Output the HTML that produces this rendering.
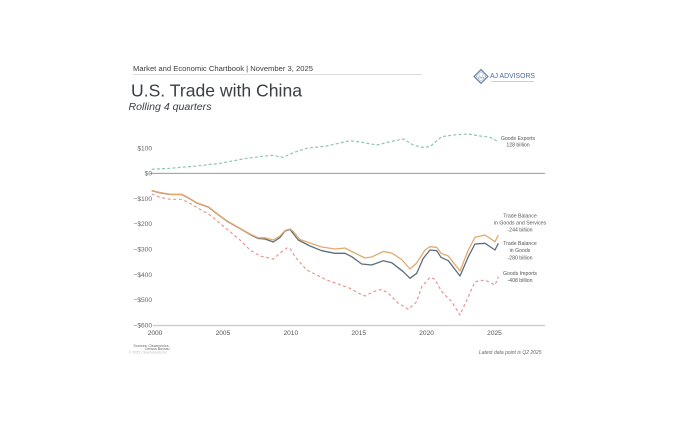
<!DOCTYPE html>
<html><head><meta charset="utf-8"><style>
html,body{margin:0;padding:0;background:#fff;}
svg{display:block;}
text{font-family:"Liberation Sans",sans-serif;}
</style></head><body>
<svg width="700" height="441" viewBox="0 0 700 441" xmlns="http://www.w3.org/2000/svg">
<rect width="700" height="441" fill="#fff"/>
<!-- header -->
<text x="133" y="71" font-size="7.6" fill="#3d3d3d" textLength="180" lengthAdjust="spacingAndGlyphs">Market and Economic Chartbook | November 3, 2025</text>
<line x1="133" y1="74.5" x2="422" y2="74.5" stroke="#d0d0d0" stroke-width="0.8"/>
<text x="131" y="96.5" font-size="17.5" fill="#3a3f45" textLength="171" lengthAdjust="spacingAndGlyphs">U.S. Trade with China</text>
<text x="128.5" y="110" font-size="10" font-style="italic" fill="#3a3f45" textLength="83" lengthAdjust="spacingAndGlyphs">Rolling 4 quarters</text>
<!-- logo -->
<g>
<polygon points="481,69.5 488,76.5 481,83.5 474,76.5" fill="none" stroke="#4a6a9a" stroke-width="0.9"/>
<polygon points="481,71.5 486,76.5 481,81.5 476,76.5" fill="none" stroke="#4a6a9a" stroke-width="0.5"/>
<text x="481" y="78.3" font-size="4.5" fill="#4a6a9a" text-anchor="middle" font-family="Liberation Serif,serif">AA</text>
<text x="490" y="78" font-size="7.5" fill="#4a6a9a" font-family="Liberation Serif,serif" textLength="45" lengthAdjust="spacingAndGlyphs">AJ ADVISORS</text>
<line x1="491" y1="81.5" x2="534" y2="81.5" stroke="#8aa0c0" stroke-width="0.6"/>
</g>
<!-- axes -->
<line x1="150" y1="173.3" x2="545" y2="173.3" stroke="#8a8a8a" stroke-width="0.8"/>
<line x1="153" y1="325.5" x2="545" y2="325.5" stroke="#cfcfcf" stroke-width="1.5"/>
<g font-size="6.6" fill="#666" text-anchor="end">
<text x="152" y="150.6">$100</text>
<text x="152" y="175.6">$0</text>
<text x="152" y="200.9">−$100</text>
<text x="152" y="226.2">−$200</text>
<text x="152" y="251.5">−$300</text>
<text x="152" y="276.8">−$400</text>
<text x="152" y="302.1">−$500</text>
<text x="152" y="327.6">−$600</text>
</g>
<g font-size="6.6" fill="#555" text-anchor="middle">
<text x="155" y="334.8">2000</text>
<text x="222.9" y="334.8">2005</text>
<text x="290.8" y="334.8">2010</text>
<text x="358.7" y="334.8">2015</text>
<text x="426.6" y="334.8">2020</text>
<text x="494.5" y="334.8">2025</text>
</g>
<!-- series -->
<polyline fill="none" stroke="#8cc5b0" stroke-width="1.2" stroke-dasharray="3,2.2" stroke-linejoin="round"
points="151.7,169.3 170,168.3 196.7,166 220,163.3 246.7,158.3 271.7,155.3 283.3,157.3 293.3,152.7 306.7,148.3 326.7,146 350,140.7 360,142 376.7,145 390,141.7 403.3,139 413.3,145 421.7,147.3 430,146.7 441.7,136.7 453.3,135 468.3,134 480,136 490,137.3 496.7,140.7"/>
<polyline fill="none" stroke="#e99592" stroke-width="1.2" stroke-dasharray="3,2.6" stroke-linejoin="round"
points="151.7,194 160,197.3 170,199.3 181.7,199.3 190,203.3 200,209.3 210,215 220,223.3 230,231.7 240,240 250,250 260,256 273.3,259 281.7,251.7 287,248 290,248.3 295,256.7 306.7,270 326.7,280 350,288.3 358,293 365,296 373.3,291.7 381.7,289.3 388.3,293.3 398.3,303.3 408.3,309.3 416.7,301.7 421.7,286.7 430,277.3 435,279.3 441.7,291.7 451.7,301.7 460,315 468.3,296.7 475,281.7 485,280 495,285 498.3,276.7"/>
<polyline fill="none" stroke="#5d6d7d" stroke-width="1.3" stroke-linejoin="round"
points="151.7,190.8 160,192.8 170,194.5 181.7,194.5 186.7,197 196.7,203 208.3,207 216.7,213.6 226.7,221 240,228.6 250,234.5 258.3,238.5 265,239 273.3,242 280,237.5 285,231 290,229.5 298.3,240 310,246 321.7,250.7 335,253.3 345,253.3 351.7,256.7 361.7,264 371.7,265 383.3,260.7 391.7,262.7 403.3,271.7 410,278.3 416.7,273.3 423.3,258.3 430,250 436.7,250.7 441,257.3 448.3,260.7 460,276 468.3,256.7 475,244 485,243.3 495,250 498.3,243.3"/>
<polyline fill="none" stroke="#e4a96a" stroke-width="1.3" stroke-linejoin="round"
points="151.7,190.5 160,192.5 170,194.3 181.7,194.3 186.7,196.7 196.7,202.7 208.3,206.7 216.7,213.3 226.7,220.7 240,228.3 250,234 258.3,237.8 265,237.8 273.3,240 280,236 285,230.5 290,229 293.3,231.5 300,239.5 310,243 321.7,247 335,249 345,248 351.7,251.5 365,258 371.7,257 383.3,251.5 391.7,253 401.7,259.5 410,269 416.7,263 425,250 430,246.7 436.7,247.3 441,253.3 448.3,256 460,271 468.3,250 475,237.3 485,235 495,241.7 498.3,235"/>
<!-- series labels -->
<g font-size="5.2" fill="#555" text-anchor="middle">
<text x="518" y="140">Goods Exports</text>
<text x="518" y="146.5">128 billion</text>
<text x="520" y="217.5">Trade Balance</text>
<text x="520" y="224.5">in Goods and Services</text>
<text x="520" y="231.3">-244 billion</text>
<text x="520" y="245">Trade Balance</text>
<text x="520" y="252">in Goods</text>
<text x="520" y="259.5">-280 billion</text>
<text x="520" y="275">Goods Imports</text>
<text x="520" y="282">-408 billion</text>
</g>
<!-- footer -->
<text x="541.5" y="354" font-size="5" font-style="italic" fill="#666" text-anchor="end">Latest data point is Q2 2025</text>
<g font-size="3.6" fill="#666" text-anchor="end">
<text x="169.5" y="346.8">Sources: Clearnomics,</text>
<text x="169.5" y="350">Census Bureau</text>
<text x="168" y="353.4" fill="#bbb">© 2025 Clearnomics Inc.</text>
</g>
</svg>
</body></html>
